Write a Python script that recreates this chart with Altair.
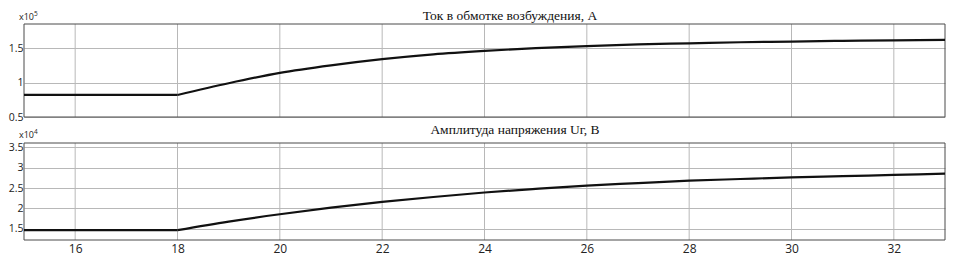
import altair as alt
import pandas as pd

# ---- data ----
t_vals = [15, 16, 17, 18, 19, 20, 21, 22, 23, 24, 25, 26, 27, 28, 29, 30, 31, 32, 33]
field_current = [0.82, 0.82, 0.82, 0.82, 0.99, 1.14, 1.25, 1.34, 1.41, 1.46, 1.50,
                 1.53, 1.555, 1.57, 1.585, 1.595, 1.605, 1.612, 1.619]          # x10^5 A
voltage_amp = [1.47, 1.47, 1.47, 1.47, 1.68, 1.86, 2.02, 2.16, 2.28, 2.39, 2.48,
               2.56, 2.62, 2.68, 2.72, 2.76, 2.79, 2.82, 2.85]                  # x10^4 V
segment = ["flat", "flat", "flat", "flat", "rise", "rise", "rise", "rise", "rise", "rise",
           "rise", "rise", "rise", "rise", "rise", "rise", "rise", "rise", "rise"]
x_ticks = [16, 18, 20, 22, 24, 26, 28, 30, 32]
top_ticks = [0.5, 1, 1.5]
bot_ticks = [1.5, 2, 2.5, 3, 3.5]
top_title = "Ток в обмотке возбуждения, А"
bot_title = "Амплитуда напряжения Uг, В"

W = 921
H = 216
TOP_H = 93
BOT_Y0 = 119
GRID = "#b8b8b8"
BOX = "#4a4a4a"
LBL = "#222222"


def build(values):
    rows = []
    for t, v, s in zip(t_vals, values, segment):
        rows.append({"t": t, "v": v, "seg": s})
        if t == 18:  # the kink point belongs to both segments
            rows.append({"t": t, "v": v, "seg": "rise"})
    return pd.DataFrame(rows)


top_df = build(field_current)
bot_df = build(voltage_amp)
tick_df = pd.DataFrame({"t": x_ticks})
one = pd.DataFrame({"a": [0]})


def x_enc():
    return alt.X("t:Q",
                 scale=alt.Scale(domain=[15, 33], nice=False, zero=False),
                 axis=alt.Axis(values=x_ticks, grid=False, domain=False, ticks=False,
                               labelFont="Open Sans", labelFontSize=12, labelColor=LBL,
                               labelPadding=3, title=None, format="d"))


def y_axis(vals):
    return alt.Axis(orient="left", values=vals, format="~g", grid=True, gridColor=GRID,
                    gridWidth=1, domain=False, ticks=False, labelFont="Open Sans",
                    labelFontSize=10.5, labelColor=LBL, labelPadding=1, title=None,
                    labelOverlap=False)


top_grid = alt.Chart(tick_df).mark_rule(color=GRID, strokeWidth=1).encode(
    x=x_enc(), y=alt.value(0), y2=alt.value(TOP_H))
bot_grid = alt.Chart(tick_df).mark_rule(color=GRID, strokeWidth=1).encode(
    x=x_enc(), y=alt.value(BOT_Y0), y2=alt.value(H))

top_box = alt.Chart(one).mark_rect(fill="white", fillOpacity=0, stroke=BOX, strokeWidth=1).encode(
    x=alt.value(0), x2=alt.value(W), y=alt.value(0), y2=alt.value(TOP_H))
bot_box = alt.Chart(one).mark_rect(fill="white", fillOpacity=0, stroke=BOX, strokeWidth=1).encode(
    x=alt.value(0), x2=alt.value(W), y=alt.value(BOT_Y0), y2=alt.value(H))

top_line = alt.Chart(top_df).mark_line(color="#111111", strokeWidth=2.2, interpolate="monotone").encode(
    x=x_enc(),
    y=alt.Y("v:Q", scale=alt.Scale(domain=[0.5, 1.85], range=[TOP_H, 0], nice=False, zero=False),
            axis=y_axis(top_ticks)),
    detail="seg:N")
bot_line = alt.Chart(bot_df).mark_line(color="#111111", strokeWidth=2.2, interpolate="monotone").encode(
    x=x_enc(),
    y=alt.Y("v:Q", scale=alt.Scale(domain=[1.23, 3.6], range=[H, BOT_Y0], nice=False, zero=False),
            axis=y_axis(bot_ticks)),
    detail="seg:N")


def text_layer(txt, x, y, size, font, align="left", color="#222222"):
    return alt.Chart(pd.DataFrame({"s": [txt]})).mark_text(
        font=font, fontSize=size, align=align, baseline="alphabetic", color=color).encode(
        text="s:N", x=alt.value(x), y=alt.value(y))


texts = [
    text_layer(top_title, 486, -4, 13.5, "Liberation Serif", "center", "#111111"),
    text_layer(bot_title, 491, 110, 13.5, "Liberation Serif", "center", "#111111"),
    text_layer("x10", -5, -4, 9, "Open Sans"),
    text_layer("5", 10, -8, 6.5, "Open Sans"),
    text_layer("x10", -5, 114, 9, "Open Sans"),
    text_layer("4", 10, 110, 6.5, "Open Sans"),
]

chart = alt.layer(top_grid, bot_grid, top_box, bot_box, top_line, bot_line, *texts).resolve_scale(
    y="independent").resolve_axis(y="independent").properties(
    width=W, height=H,
    autosize=alt.AutoSizeParams(type="none"),
    padding={"left": 16, "top": 16, "right": 1, "bottom": 16},
    background="white",
).configure_view(strokeWidth=0)

chart.save("out.html", embed_options={"renderer": "svg", "actions": False})
